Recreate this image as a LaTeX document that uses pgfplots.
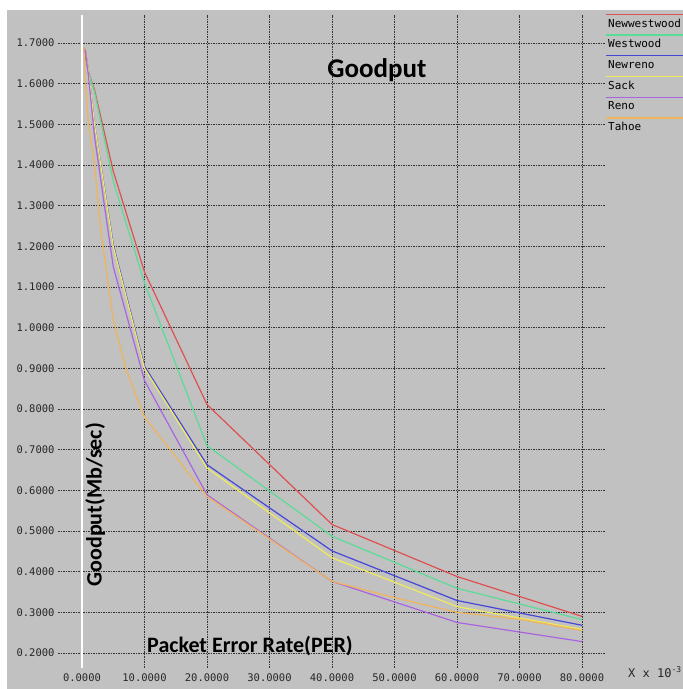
\documentclass[border=0pt]{standalone}
\usepackage{fontspec}
\usepackage{pgfplots}
\pgfplotsset{compat=1.18}
\setmainfont{Carlito}
\newfontfamily\monof{DejaVu Sans Mono}
\definecolor{bgc}{RGB}{193,193,193}
\definecolor{cred}{RGB}{222,80,80}
\definecolor{cgreen}{RGB}{90,220,150}
\definecolor{cblue}{RGB}{70,70,215}
\definecolor{cyellow}{RGB}{240,235,90}
\definecolor{cpurple}{RGB}{170,100,225}
\definecolor{corange}{RGB}{240,180,90}
\begin{document}
\begin{tikzpicture}
\useasboundingbox (0pt,0pt) rectangle (683pt,689pt);
\fill[white] (0pt,0pt) rectangle (683pt,689pt);
\fill[bgc] (7pt,0pt) rectangle (683pt,679pt);
\begin{axis}[
  at={(58pt,21pt)}, anchor=south west, scale only axis,
  width=547pt, height=653pt,
  xmin=-3.84, xmax=83.68, ymin=0.163, ymax=1.769,
  clip=false,
  axis line style={draw=none},
  major tick length=0pt,
  xtick={10,20,30,40,50,60,70,80},
  extra x ticks={0},
  extra x tick style={grid style={white, solid, line width=1.6pt}},
  ytick={0.2,0.3,0.4,0.5,0.6,0.7,0.8,0.9,1.0,1.1,1.2,1.3,1.4,1.5,1.6,1.7},
  grid=major,
  grid style={black!80, dash pattern=on 1.5pt off 1pt, line width=0.9pt},
  /pgf/number format/fixed,
  /pgf/number format/fixed zerofill,
  /pgf/number format/precision=4,
  /pgf/number format/assume math mode=true,
  tick label style={font=\monof\fontsize{10.5}{12}\selectfont, text=black!85},
  xticklabel style={yshift=-2pt},
  legend style={at={(1.0055,0.994)}, anchor=north west, draw=none, fill=none,
    inner sep=0pt, row sep=10.2pt, column sep=0pt,
    font=\monof\fontsize{11}{12}\selectfont,
    nodes={inner sep=0pt, text height=8pt, text depth=2.5pt}},
  legend cell align=left,
  legend image code/.code={\draw[#1,overlay,line width=1.3pt] (-2pt,10pt) -- (80pt,10pt);},
]
\addplot[color=cred, line width=1.2pt] coordinates {(0.3,1.688) (1,1.63) (2,1.585) (5,1.385) (10,1.137) (20,0.811) (40,0.516) (60,0.388) (80,0.290)};
\addlegendentry{Newwestwood}
\addplot[color=cgreen, line width=1.2pt] coordinates {(0.4,1.69) (1,1.63) (2,1.58) (5,1.36) (10,1.11) (20,0.71) (40,0.487) (60,0.359) (80,0.282)};
\addlegendentry{Westwood}
\addplot[color=cblue, line width=1.2pt] coordinates {(0.5,1.685) (1,1.635) (2,1.50) (5,1.205) (10,0.905) (20,0.663) (40,0.451) (60,0.329) (80,0.268)};
\addlegendentry{Newreno}
\addplot[color=cyellow, line width=1.2pt] coordinates {(0.5,1.685) (1,1.635) (2,1.50) (5,1.20) (10,0.90) (20,0.655) (40,0.434) (60,0.314) (80,0.258)};
\addlegendentry{Sack}
\addplot[color=cpurple, line width=1.2pt] coordinates {(0.5,1.685) (1,1.625) (2,1.47) (5,1.15) (10,0.87) (20,0.589) (40,0.376) (60,0.275) (80,0.228)};
\addlegendentry{Reno}
\addplot[color=corange, line width=1.2pt] coordinates {(0.3,1.69) (0.6,1.59) (1,1.51) (2,1.40) (3,1.24) (5,1.02) (7,0.90) (10,0.78) (20,0.585) (40,0.376) (50,0.336) (60,0.30) (70,0.283) (80,0.255)};
\addlegendentry{Tahoe}
\node[font=\bfseries\fontsize{27}{30}\selectfont] at (axis description cs:0.583,0.916) {Goodput};
\node[font=\bfseries\fontsize{22}{24}\selectfont, rotate=90] at (axis description cs:0.068,0.25) {Goodput(Mb/sec)};
\node[font=\bfseries\fontsize{22}{24}\selectfont] at (axis description cs:0.351,0.034) {Packet Error Rate(PER)};
\node[anchor=base west, inner sep=0pt, font=\monof\fontsize{12}{13}\selectfont, text=black!85] at (axis description cs:1.042,-0.0138) {X x 10\textsuperscript{-3}};
\end{axis}
\end{tikzpicture}
\end{document}
